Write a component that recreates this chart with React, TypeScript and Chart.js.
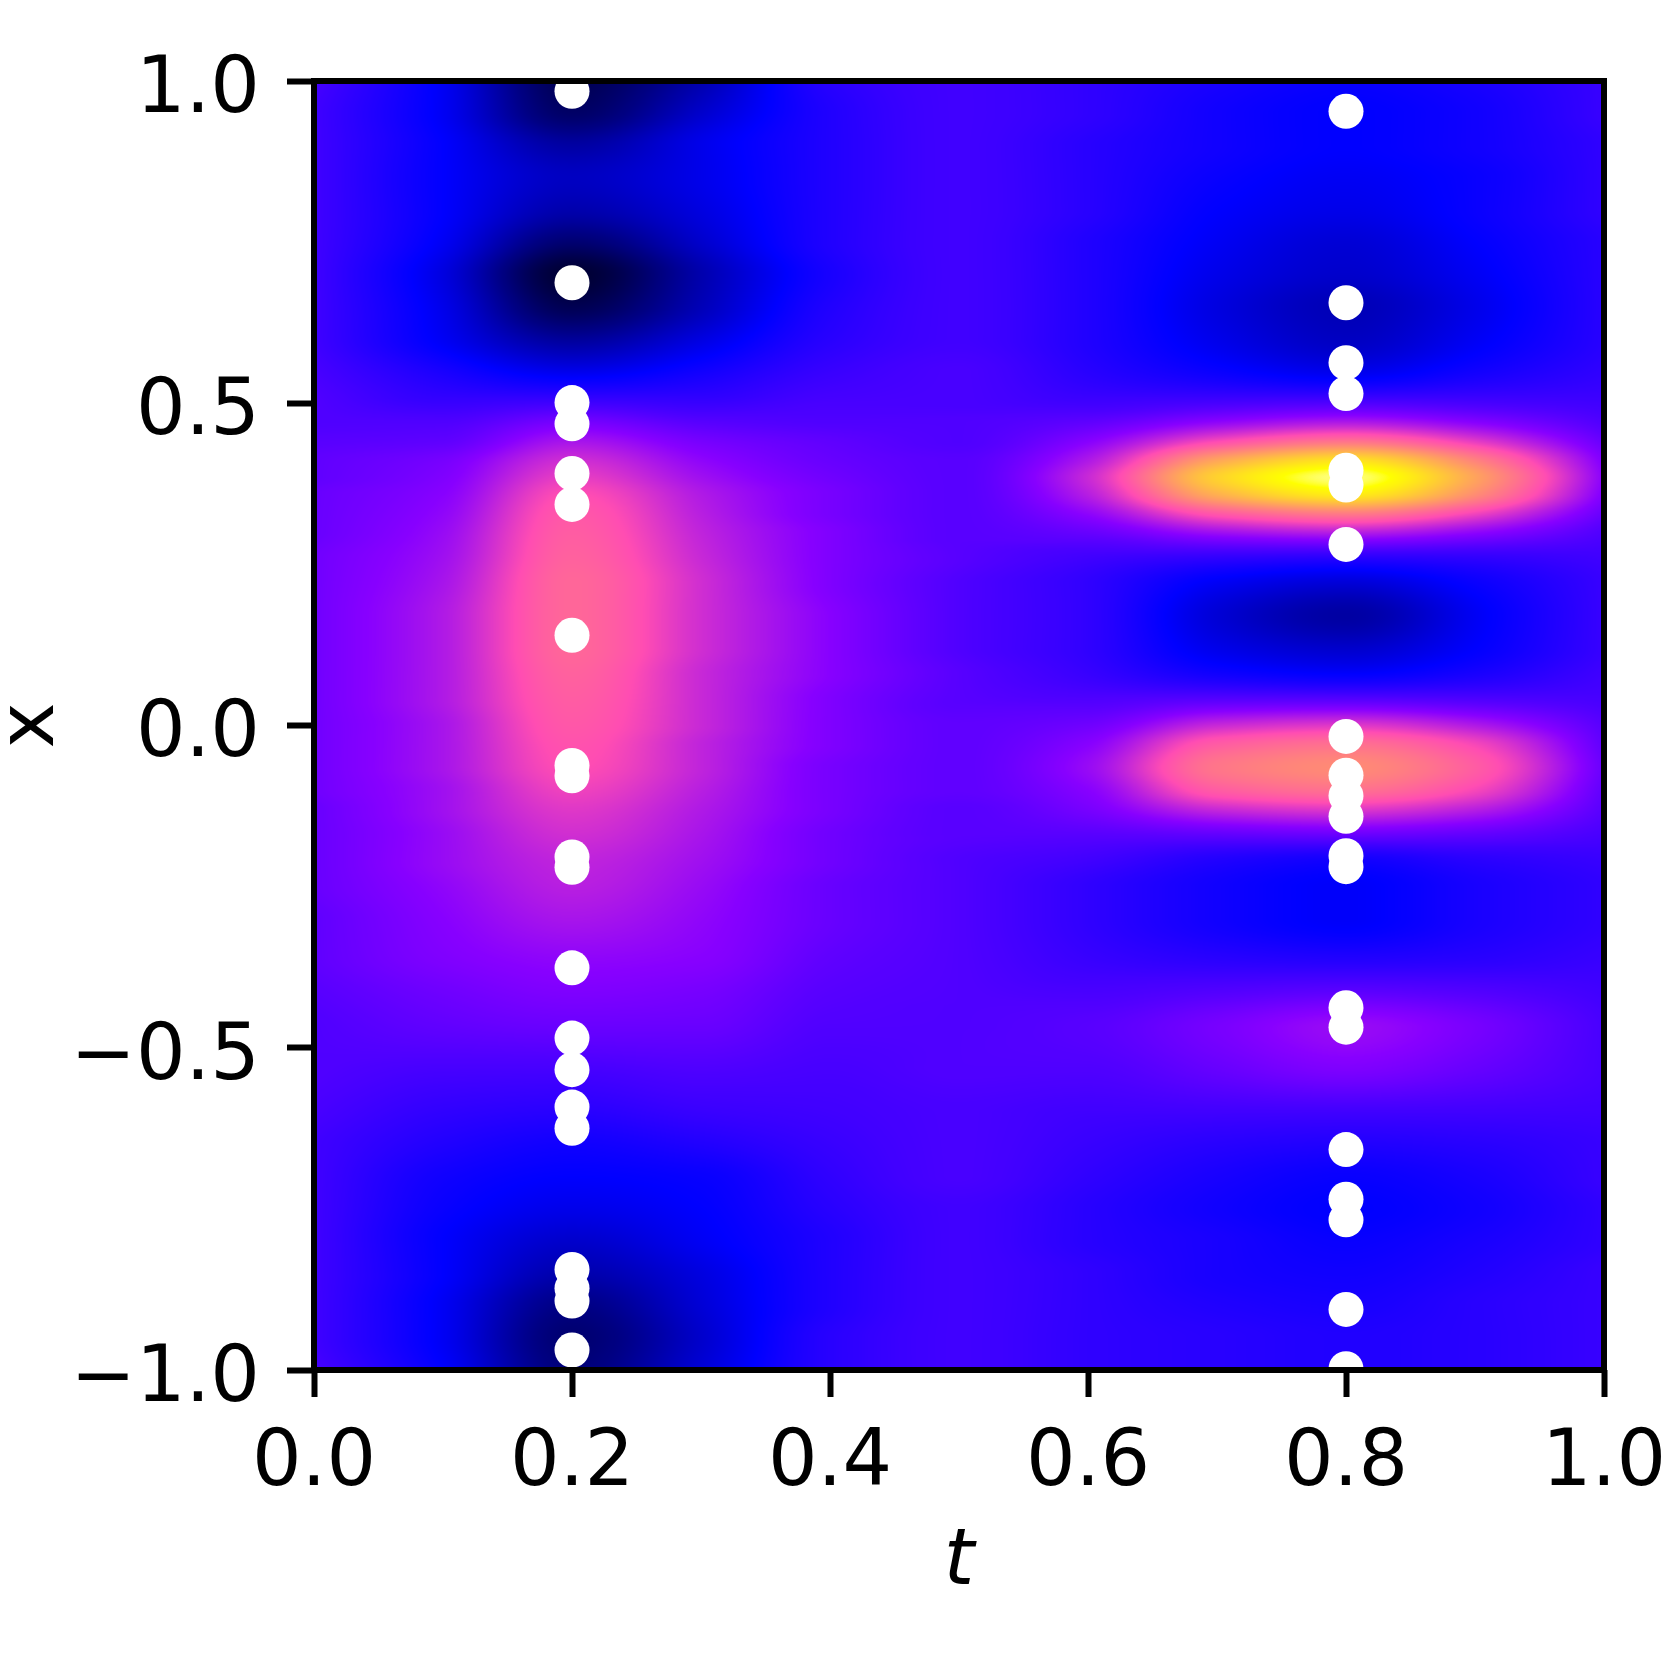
import React, { useEffect, useRef } from "react";
import { Chart, registerables } from "chart.js";

Chart.register(...registerables);

// ---------------- data ----------------
// Heat-map grid: columns are t values, rows are x values (top to bottom).
// Cell values are the normalised colour level (0..1) of the gnuplot2 colour map.
const T_COLS: number[] = [0, 0.1, 0.2, 0.3, 0.4, 0.5, 0.6, 0.7, 0.8, 0.9, 1.0];
const X_ROWS: number[] = [
  1.0, 0.95, 0.9, 0.85, 0.8, 0.75, 0.7, 0.65, 0.6, 0.55, 0.5, 0.47, 0.44, 0.41, 0.385, 0.36,
  0.33, 0.3, 0.26, 0.22, 0.17, 0.12, 0.08, 0.04, 0.0, -0.03, -0.065, -0.1, -0.13, -0.17, -0.21,
  -0.25, -0.3, -0.36, -0.41, -0.47, -0.53, -0.6, -0.65, -0.7, -0.75, -0.8, -0.85, -0.9, -0.95, -1.0,
];
const FIELD: number[][] = [
  [0.34, 0.24, 0.08, 0.17, 0.30, 0.33, 0.31, 0.28, 0.26, 0.28, 0.32],
  [0.33, 0.24, 0.10, 0.20, 0.29, 0.33, 0.31, 0.27, 0.25, 0.27, 0.32],
  [0.33, 0.25, 0.16, 0.23, 0.29, 0.33, 0.30, 0.27, 0.25, 0.27, 0.31],
  [0.33, 0.25, 0.19, 0.23, 0.29, 0.33, 0.30, 0.26, 0.24, 0.26, 0.31],
  [0.33, 0.25, 0.17, 0.22, 0.29, 0.33, 0.30, 0.25, 0.23, 0.26, 0.31],
  [0.33, 0.24, 0.11, 0.20, 0.29, 0.33, 0.29, 0.24, 0.21, 0.25, 0.30],
  [0.33, 0.22, 0.05, 0.17, 0.28, 0.33, 0.29, 0.23, 0.20, 0.24, 0.30],
  [0.33, 0.23, 0.08, 0.18, 0.29, 0.33, 0.29, 0.22, 0.18, 0.23, 0.30],
  [0.33, 0.24, 0.15, 0.22, 0.30, 0.33, 0.29, 0.23, 0.19, 0.24, 0.30],
  [0.34, 0.28, 0.23, 0.27, 0.32, 0.34, 0.30, 0.26, 0.23, 0.27, 0.31],
  [0.35, 0.32, 0.33, 0.32, 0.34, 0.34, 0.33, 0.34, 0.35, 0.34, 0.33],
  [0.35, 0.35, 0.40, 0.36, 0.35, 0.35, 0.37, 0.43, 0.47, 0.42, 0.35],
  [0.36, 0.37, 0.46, 0.40, 0.37, 0.35, 0.42, 0.57, 0.65, 0.54, 0.38],
  [0.37, 0.40, 0.51, 0.43, 0.38, 0.36, 0.47, 0.75, 0.87, 0.68, 0.41],
  [0.37, 0.41, 0.54, 0.45, 0.39, 0.36, 0.50, 0.83, 0.96, 0.74, 0.42],
  [0.38, 0.42, 0.57, 0.47, 0.40, 0.36, 0.48, 0.77, 0.89, 0.70, 0.41],
  [0.38, 0.43, 0.59, 0.48, 0.40, 0.36, 0.43, 0.60, 0.67, 0.56, 0.38],
  [0.38, 0.44, 0.60, 0.49, 0.41, 0.36, 0.38, 0.45, 0.48, 0.43, 0.35],
  [0.39, 0.45, 0.61, 0.50, 0.41, 0.36, 0.33, 0.31, 0.30, 0.31, 0.33],
  [0.39, 0.46, 0.62, 0.51, 0.41, 0.35, 0.31, 0.24, 0.21, 0.26, 0.32],
  [0.39, 0.47, 0.62, 0.51, 0.42, 0.35, 0.31, 0.21, 0.16, 0.24, 0.32],
  [0.39, 0.47, 0.62, 0.51, 0.42, 0.35, 0.31, 0.23, 0.20, 0.25, 0.32],
  [0.39, 0.47, 0.61, 0.50, 0.42, 0.36, 0.32, 0.27, 0.25, 0.28, 0.33],
  [0.39, 0.47, 0.60, 0.50, 0.41, 0.36, 0.35, 0.36, 0.36, 0.35, 0.34],
  [0.39, 0.46, 0.59, 0.50, 0.41, 0.37, 0.39, 0.50, 0.53, 0.47, 0.36],
  [0.39, 0.46, 0.58, 0.49, 0.41, 0.37, 0.42, 0.60, 0.64, 0.56, 0.37],
  [0.39, 0.46, 0.57, 0.49, 0.40, 0.37, 0.44, 0.65, 0.69, 0.60, 0.38],
  [0.39, 0.45, 0.55, 0.48, 0.40, 0.37, 0.42, 0.60, 0.64, 0.56, 0.37],
  [0.38, 0.45, 0.53, 0.47, 0.40, 0.36, 0.40, 0.50, 0.53, 0.48, 0.36],
  [0.38, 0.44, 0.51, 0.46, 0.39, 0.36, 0.36, 0.37, 0.38, 0.37, 0.34],
  [0.38, 0.44, 0.49, 0.45, 0.39, 0.35, 0.33, 0.29, 0.27, 0.30, 0.32],
  [0.38, 0.43, 0.48, 0.44, 0.38, 0.35, 0.31, 0.27, 0.245, 0.28, 0.31],
  [0.37, 0.42, 0.46, 0.43, 0.38, 0.35, 0.31, 0.27, 0.245, 0.28, 0.31],
  [0.37, 0.41, 0.43, 0.42, 0.37, 0.35, 0.32, 0.30, 0.29, 0.30, 0.32],
  [0.36, 0.39, 0.41, 0.40, 0.36, 0.35, 0.34, 0.35, 0.36, 0.35, 0.33],
  [0.35, 0.37, 0.38, 0.38, 0.35, 0.35, 0.36, 0.40, 0.44, 0.40, 0.34],
  [0.35, 0.34, 0.34, 0.35, 0.34, 0.35, 0.35, 0.38, 0.41, 0.38, 0.34],
  [0.34, 0.31, 0.30, 0.32, 0.33, 0.34, 0.33, 0.33, 0.33, 0.33, 0.33],
  [0.33, 0.29, 0.27, 0.29, 0.32, 0.34, 0.32, 0.30, 0.29, 0.30, 0.32],
  [0.33, 0.27, 0.25, 0.26, 0.31, 0.34, 0.31, 0.28, 0.26, 0.28, 0.32],
  [0.33, 0.26, 0.23, 0.25, 0.30, 0.33, 0.30, 0.27, 0.25, 0.27, 0.31],
  [0.33, 0.25, 0.20, 0.24, 0.29, 0.33, 0.30, 0.28, 0.26, 0.28, 0.31],
  [0.33, 0.25, 0.17, 0.22, 0.29, 0.33, 0.31, 0.28, 0.27, 0.29, 0.32],
  [0.33, 0.24, 0.13, 0.21, 0.29, 0.33, 0.31, 0.29, 0.28, 0.30, 0.32],
  [0.33, 0.24, 0.11, 0.20, 0.30, 0.33, 0.31, 0.30, 0.29, 0.30, 0.32],
  [0.34, 0.25, 0.12, 0.21, 0.30, 0.33, 0.31, 0.30, 0.29, 0.30, 0.32],
];

// Sample points (white dots): two time slices with their x positions.
const SAMPLE_T: number[] = [0.2, 0.8];
const SAMPLES_AT_T02: number[] = [
  0.984, 0.687, 0.501, 0.468, 0.391, 0.343, 0.14, -0.062, -0.078, -0.204, -0.22, -0.376,
  -0.485, -0.534, -0.592, -0.625, -0.844, -0.873, -0.893, -0.969,
];
const SAMPLES_AT_T08: number[] = [
  0.953, 0.656, 0.563, 0.515, 0.396, 0.373, 0.281, -0.017, -0.077, -0.109, -0.141, -0.202,
  -0.219, -0.438, -0.468, -0.658, -0.735, -0.767, -0.906, -0.998,
];

const X_TICKS: number[] = [0, 0.2, 0.4, 0.6, 0.8, 1.0];
const Y_TICKS: number[] = [-1, -0.5, 0, 0.5, 1];
const X_TITLE = "t";
const Y_TITLE = "x";

// ---------------- helpers ----------------
const FONT_FAMILY = "'DejaVu Sans', sans-serif";

function fmtTick(v: number): string {
  const s = Math.abs(v).toFixed(1);
  return v < -1e-9 ? "\u2212" + s : s;
}

function clamp01(v: number): number {
  return v < 0 ? 0 : v > 1 ? 1 : v;
}

// gnuplot2 colour map
function gnuplot2(v: number): [number, number, number] {
  const x = clamp01(v);
  const r = clamp01(x / 0.32 - 0.78125);
  const g = clamp01(2 * x - 0.84);
  let b: number;
  if (x < 0.25) b = 4 * x;
  else if (x < 0.92) b = -2 * x + 1.84;
  else b = x / 0.08 - 11.5;
  b = clamp01(b);
  return [Math.round(r * 255), Math.round(g * 255), Math.round(b * 255)];
}

// monotone cubic slopes (Fritsch-Butland)
function slopes(xs: number[], ys: number[]): number[] {
  const n = xs.length;
  const h: number[] = [];
  const d: number[] = [];
  for (let i = 0; i < n - 1; i++) {
    h.push(xs[i + 1] - xs[i]);
    d.push((ys[i + 1] - ys[i]) / h[i]);
  }
  const m = new Array(n).fill(0);
  m[0] = d[0];
  m[n - 1] = d[n - 2];
  for (let i = 1; i < n - 1; i++) {
    if (d[i - 1] * d[i] <= 0) m[i] = 0;
    else {
      const w1 = 2 * h[i] + h[i - 1];
      const w2 = h[i] + 2 * h[i - 1];
      m[i] = (w1 + w2) / (w1 / d[i - 1] + w2 / d[i]);
    }
  }
  return m;
}

function findInterval(xs: number[], x: number): number {
  const n = xs.length;
  if (x <= xs[0]) return 0;
  if (x >= xs[n - 1]) return n - 2;
  let lo = 0;
  let hi = n - 1;
  while (hi - lo > 1) {
    const mid = (lo + hi) >> 1;
    if (xs[mid] <= x) lo = mid;
    else hi = mid;
  }
  return lo;
}

function hermite(xs: number[], ys: number[], m: number[], i: number, x: number): number {
  const h = xs[i + 1] - xs[i];
  const s = (x - xs[i]) / h;
  const s2 = s * s;
  const s3 = s2 * s;
  return (
    (2 * s3 - 3 * s2 + 1) * ys[i] +
    (s3 - 2 * s2 + s) * h * m[i] +
    (-2 * s3 + 3 * s2) * ys[i + 1] +
    (s3 - s2) * h * m[i + 1]
  );
}

const heatmapPlugin = {
  id: "heatmapField",
  beforeDatasetsDraw(chart: any) {
    const ctx: CanvasRenderingContext2D = chart.ctx;
    const xs = chart.scales.x;
    const ys = chart.scales.y;
    const nT = T_COLS.length;
    const order = X_ROWS.map((_, i) => i).sort((a, b) => X_ROWS[a] - X_ROWS[b]);
    const xAsc = order.map((i) => X_ROWS[i]);
    const colData = T_COLS.map((_, j) => order.map((i) => FIELD[i][j]));
    const colSlopes = colData.map((c) => slopes(xAsc, c));

    const left = xs.getPixelForValue(T_COLS[0]);
    const right = xs.getPixelForValue(T_COLS[nT - 1]);
    const top = ys.getPixelForValue(xAsc[xAsc.length - 1]);
    const bottom = ys.getPixelForValue(xAsc[0]);
    const x0 = Math.floor(left);
    const y0 = Math.floor(top);
    const w = Math.ceil(right) - x0;
    const h = Math.ceil(bottom) - y0;

    const lut = new Uint8Array(1025 * 3);
    for (let k = 0; k <= 1024; k++) {
      const c = gnuplot2(k / 1024);
      lut[k * 3] = c[0];
      lut[k * 3 + 1] = c[1];
      lut[k * 3 + 2] = c[2];
    }

    const pxI = new Int32Array(w);
    const pxT = new Float64Array(w);
    for (let px = 0; px < w; px++) {
      let t = xs.getValueForPixel(x0 + px + 0.5);
      t = Math.min(Math.max(t, T_COLS[0]), T_COLS[nT - 1]);
      pxI[px] = findInterval(T_COLS, t);
      pxT[px] = t;
    }

    const off = document.createElement("canvas");
    off.width = w;
    off.height = h;
    const octx = off.getContext("2d") as CanvasRenderingContext2D;
    const img = octx.createImageData(w, h);
    const data = img.data;
    const rowVals: number[] = new Array(nT).fill(0);
    for (let py = 0; py < h; py++) {
      let xv = ys.getValueForPixel(y0 + py + 0.5);
      xv = Math.min(Math.max(xv, xAsc[0]), xAsc[xAsc.length - 1]);
      const k = findInterval(xAsc, xv);
      for (let j = 0; j < nT; j++) rowVals[j] = hermite(xAsc, colData[j], colSlopes[j], k, xv);
      const m = slopes(T_COLS, rowVals);
      for (let px = 0; px < w; px++) {
        const v = clamp01(hermite(T_COLS, rowVals, m, pxI[px], pxT[px]));
        const li = Math.round(v * 1024) * 3;
        const o = (py * w + px) * 4;
        data[o] = lut[li];
        data[o + 1] = lut[li + 1];
        data[o + 2] = lut[li + 2];
        data[o + 3] = 255;
      }
    }
    octx.putImageData(img, 0, 0);
    ctx.save();
    ctx.beginPath();
    ctx.rect(left, top, right - left, bottom - top);
    ctx.clip();
    ctx.drawImage(off, x0, y0);
    ctx.restore();
  },
  afterDatasetsDraw(chart: any) {
    const { ctx, chartArea } = chart;
    ctx.save();
    ctx.strokeStyle = "#000000";
    ctx.lineWidth = 6;
    ctx.lineJoin = "miter";
    ctx.strokeRect(
      chartArea.left,
      chartArea.top,
      chartArea.right - chartArea.left,
      chartArea.bottom - chartArea.top
    );
    ctx.restore();
  },
};

export default function App() {
  const canvasRef = useRef<HTMLCanvasElement | null>(null);

  useEffect(() => {
    const canvas = canvasRef.current;
    if (!canvas) return;
    const points = [
      ...SAMPLES_AT_T02.map((x) => ({ x: SAMPLE_T[0], y: x })),
      ...SAMPLES_AT_T08.map((x) => ({ x: SAMPLE_T[1], y: x })),
    ];
    const tickFont = { family: FONT_FAMILY, size: 78, lineHeight: 1 };
    const chart = new Chart(canvas, {
      type: "scatter",
      data: {
        datasets: [
          {
            data: points,
            pointRadius: 17.5,
            pointHoverRadius: 17.5,
            pointBackgroundColor: "#ffffff",
            pointBorderWidth: 0,
            pointBorderColor: "#ffffff",
            clip: 0,
          } as any,
        ],
      },
      options: {
        responsive: false,
        animation: false,
        devicePixelRatio: 1,
        events: [],
        layout: {
          autoPadding: false,
          padding: { left: 0, top: 81, right: 57, bottom: 0 },
        } as any,
        plugins: {
          legend: { display: false },
          tooltip: { enabled: false },
        },
        scales: {
          x: {
            type: "linear",
            position: "bottom",
            min: 0,
            max: 1,
            afterBuildTicks: (s: any) => {
              s.ticks = X_TICKS.map((v) => ({ value: v }));
            },
            afterFit: (s: any) => {
              s.height = 291;
              s.paddingLeft = 0;
              s.paddingRight = 0;
            },
            ticks: {
              font: tickFont,
              color: "#000000",
              padding: 28.5,
              maxRotation: 0,
              autoSkip: false,
              callback: (v: any) => fmtTick(Number(v)),
            },
            grid: {
              display: true,
              drawOnChartArea: false,
              drawTicks: true,
              tickLength: 27,
              tickWidth: 6,
              tickColor: "#000000",
            },
            border: { display: false },
            title: {
              display: true,
              text: X_TITLE,
              color: "#000000",
              font: { family: FONT_FAMILY, size: 78, style: "italic", lineHeight: 1 },
              padding: { top: 0, bottom: 58.5 },
            },
          },
          y: {
            type: "linear",
            position: "left",
            min: -1,
            max: 1,
            afterBuildTicks: (s: any) => {
              s.ticks = Y_TICKS.map((v) => ({ value: v }));
            },
            afterFit: (s: any) => {
              s.width = 314;
              s.paddingTop = 0;
              s.paddingBottom = 0;
            },
            ticks: {
              font: tickFont,
              color: "#000000",
              padding: 27,
              labelOffset: 10.5,
              autoSkip: false,
              callback: (v: any) => fmtTick(Number(v)),
            },
            grid: {
              display: true,
              drawOnChartArea: false,
              drawTicks: true,
              tickLength: 27,
              tickWidth: 6,
              tickColor: "#000000",
            },
            border: { display: false },
            title: {
              display: true,
              text: Y_TITLE,
              color: "#000000",
              font: { family: FONT_FAMILY, size: 78, lineHeight: 0.6 },
              padding: { top: 9.5, bottom: 0 },
            },
          },
        },
      },
      plugins: [heatmapPlugin],
    } as any);
    return () => chart.destroy();
  }, []);

  return (
    <div style={{ position: "absolute", left: 0, top: 0, width: 1661, height: 1661, background: "#ffffff" }}>
      <canvas ref={canvasRef} width={1661} height={1661} style={{ display: "block" }} />
    </div>
  );
}
